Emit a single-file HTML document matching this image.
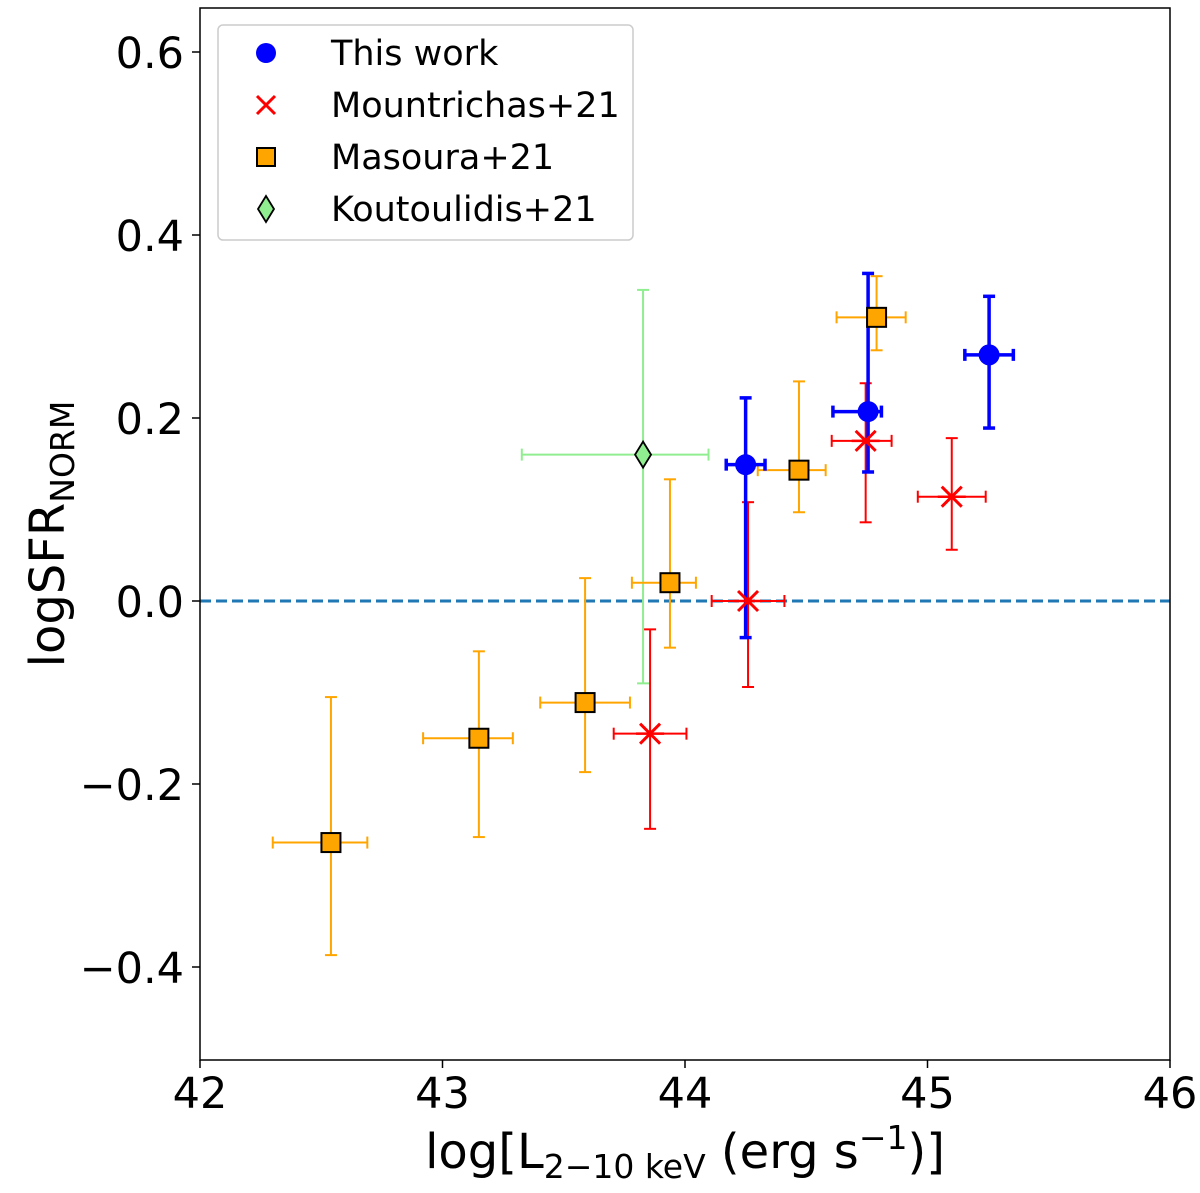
<!DOCTYPE html>
<html><head><meta charset="utf-8"><style>
body{margin:0;background:#fff}
svg{display:block;font-family:"DejaVu Sans","Liberation Sans",sans-serif}
</style></head><body>
<svg id="chart" width="1200" height="1193" viewBox="0 0 1200 1193">
<rect x="0" y="0" width="1200" height="1193" fill="#fff"/>
<g id="grp"></g>
</svg>
<script>
const thisX=[44.25,44.755,45.254];
const thisY=[0.149,0.207,0.269];
const thisXlo=[0.08,0.145,0.1];
const thisXhi=[0.08,0.055,0.1];
const thisYlo=[0.189,0.066,0.08];
const thisYhi=[0.073,0.151,0.064];

const mouX=[43.856,44.26,44.745,45.10];
const mouY=[-0.145,0.0,0.175,0.114];
const mouXlo=[0.15,0.15,0.14,0.14];
const mouXhi=[0.15,0.15,0.107,0.14];
const mouYlo=[0.104,0.094,0.089,0.058];
const mouYhi=[0.114,0.108,0.063,0.064];

const masX=[42.54,43.15,43.588,43.938,44.47,44.79];
const masY=[-0.264,-0.15,-0.111,0.02,0.143,0.31];
const masXlo=[0.24,0.23,0.185,0.157,0.17,0.165];
const masXhi=[0.15,0.14,0.185,0.107,0.11,0.12];
const masYlo=[0.123,0.108,0.076,0.071,0.046,0.036];
const masYhi=[0.159,0.095,0.136,0.113,0.097,0.045];

const kouX=[43.827];
const kouY=[0.16];
const kouXlo=[0.5];
const kouXhi=[0.27];
const kouYlo=[0.25];
const kouYhi=[0.18];

const xTicks=[42,43,44,45,46];
const yTicks=[-0.4,-0.2,0.0,0.2,0.4,0.6];
const yTickLabels=["\u22120.4","\u22120.2","0.0","0.2","0.4","0.6"];

const L=200,R=1170,T=8,B=1060;
const sx=v=>L+(v-42)*(R-L)/4;
const sy=v=>601-v*915;
const g=document.getElementById('grp');
const NS='http://www.w3.org/2000/svg';
function mk(tag,attrs,parent){const e=document.createElementNS(NS,tag);for(const k in attrs)e.setAttribute(k,attrs[k]);(parent||g).appendChild(e);return e;}

let zl=mk('line',{x1:L,x2:R,y1:sy(0),y2:sy(0),stroke:'#1f77b4','stroke-width':3,'stroke-dasharray':'11,5'});



function errbars(name,X,Y,xlo,xhi,ylo,yhi,color,w){
  const grp=mk('g',{});
  
  
  const c=6;
  for(let i=0;i<X.length;i++){
    const x=sx(X[i]),y=sy(Y[i]);
    const x1=sx(X[i]-xlo[i]),x2=sx(X[i]+xhi[i]),y1=sy(Y[i]+yhi[i]),y2=sy(Y[i]-ylo[i]);
    const a={stroke:color,'stroke-width':w};
    mk('line',Object.assign({x1:x1,x2:x2,y1:y,y2:y},a),grp);
    mk('line',Object.assign({x1:x,x2:x,y1:y1,y2:y2},a),grp);
    mk('line',Object.assign({x1:x1,x2:x1,y1:y-c,y2:y+c},a),grp);
    mk('line',Object.assign({x1:x2,x2:x2,y1:y-c,y2:y+c},a),grp);
    mk('line',Object.assign({x1:x-c,x2:x+c,y1:y1,y2:y1},a),grp);
    mk('line',Object.assign({x1:x-c,x2:x+c,y1:y2,y2:y2},a),grp);
  }
}
errbars('koutoulidis',kouX,kouY,kouXlo,kouXhi,kouYlo,kouYhi,'#90ee90',2);
errbars('mountrichas',mouX,mouY,mouXlo,mouXhi,mouYlo,mouYhi,'#ff0000',2);
errbars('masoura',masX,masY,masXlo,masXhi,masYlo,masYhi,'#ffa500',2);
errbars('this-work',thisX,thisY,thisXlo,thisXhi,thisYlo,thisYhi,'#0000ff',3.5);

function cross(x,y,s,p){mk('path',{d:`M${x-s} ${y-s}L${x+s} ${y+s}M${x-s} ${y+s}L${x+s} ${y-s}`,stroke:'#ff0000','stroke-width':3,fill:'none'},p);}
function diamond(x,y,p){return mk('path',{d:`M${x} ${y-13}L${x+8} ${y}L${x} ${y+13}L${x-8} ${y}Z`,fill:'#90ee90',stroke:'#000','stroke-width':1.8},p);}
for(let i=0;i<thisX.length;i++){
  const e=mk('circle',{cx:sx(thisX[i]),cy:sy(thisY[i]),r:10.5,fill:'#0000ff'});
  
  
}
for(let i=0;i<mouX.length;i++){
  const p=mk('g',{});
  
  
  const x=sx(mouX[i]),y=sy(mouY[i]);
  cross(x,y,10,p);
  mk('line',{x1:x-14,x2:x+14,y1:y,y2:y,stroke:'#ff0000','stroke-width':2.5},p);
}
for(let i=0;i<masX.length;i++){
  const e=mk('rect',{x:sx(masX[i])-9.5,y:sy(masY[i])-9.5,width:19,height:19,fill:'#ffa500',stroke:'#000','stroke-width':2});
  
  
}
for(let i=0;i<kouX.length;i++){
  const e=diamond(sx(kouX[i]),sy(kouY[i]));
  
  
}

let fr=mk('rect',{x:L,y:T,width:R-L,height:B-T,fill:'none',stroke:'#000','stroke-width':1.5});



for(const v of xTicks){
  const x=sx(v);
  mk('line',{x1:x,x2:x,y1:B,y2:B+8,stroke:'#000','stroke-width':1.5});
  const t=mk('text',{x:x,y:B+48,'text-anchor':'middle','font-size':43});
  t.textContent=v;
  
  
}
yTicks.forEach((v,i)=>{
  const y=sy(v);
  mk('line',{x1:L-8,x2:L,y1:y,y2:y,stroke:'#000','stroke-width':1.5});
  const t=mk('text',{x:L-16,y:y+16,'text-anchor':'end','font-size':43});
  t.textContent=yTickLabels[i];
  
  
});

let xt=mk('text',{x:685,y:1168,'text-anchor':'middle','font-size':48});
xt.innerHTML='log[L<tspan font-size="33" dy="10">2\u221210 keV</tspan><tspan dy="-10"> (erg s</tspan><tspan font-size="33" dy="-19">\u22121</tspan><tspan dy="19">)]</tspan>';


let yt=mk('text',{transform:'translate(64,534) rotate(-90)','text-anchor':'middle','font-size':48});
yt.innerHTML='logSFR<tspan font-size="33" dy="10">NORM</tspan>';



const lg=mk('g',{});


mk('rect',{x:218,y:25,width:415,height:215,rx:5,fill:'#fff',stroke:'#ccc','stroke-width':1.5},lg);
const names=['This work','Mountrichas+21','Masoura+21','Koutoulidis+21'];
names.forEach((n,i)=>{
  const y=53+i*52;
  const e=mk('g',{},lg);
  
  
  if(i==0)mk('circle',{cx:266,cy:y,r:10,fill:'#0000ff'},e);
  if(i==1)cross(266,y,9,e);
  if(i==2)mk('rect',{x:257,y:y-9,width:18,height:18,fill:'#ffa500',stroke:'#000','stroke-width':2},e);
  if(i==3)diamond(266,y,e);
  const t=mk('text',{x:331,y:y+12,'font-size':35},e);
  t.textContent=n;
});
</script>
</body></html>
